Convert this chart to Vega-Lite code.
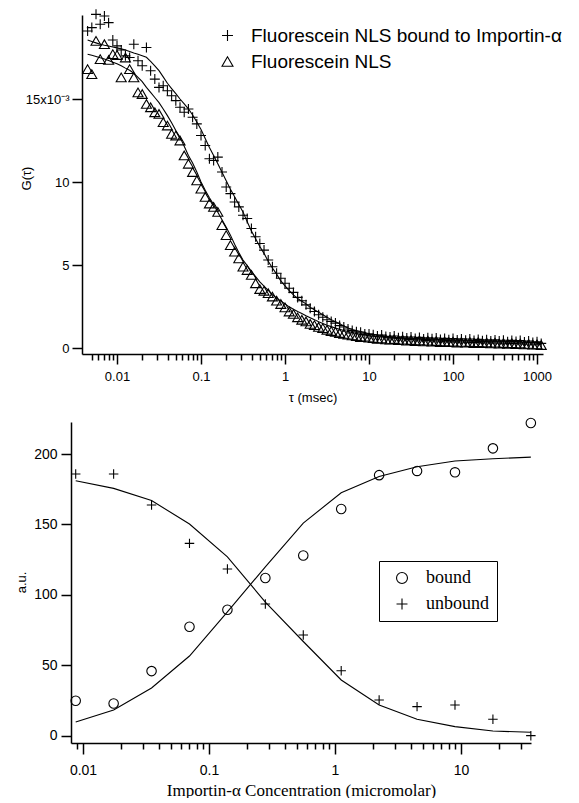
{
"$schema":"https://vega.github.io/schema/vega-lite/v6.json",
"padding":{"left":15,"top":7,"right":0,"bottom":0},
"background":"white",
"config":{"view":{"stroke":null},"font":"Liberation Sans","axis":{"labelColor":"black","titleColor":"black","domainColor":"black","tickColor":"black","grid":false,"titleFontWeight":"normal","domainWidth":1.5,"tickWidth":1.5,"labelFlush":false,"labelOverlap":false},"legend":{"labelColor":"black","labelLimit":500}},
"resolve":{"scale":{"shape":"independent"},"legend":{"shape":"independent"}},
"concat":[
{"concat":[
{"width":1,"height":1,"data":{"values":[]},"mark":"point","encoding":{}},
{"width":461,"height":339,
"data":{"values":[
{"t":0.004467,"s":"b","g":0.0191,"f":0.01855},{"t":0.005012,"s":"b","g":0.0193,"f":0.01846},{"t":0.005623,"s":"b","g":0.0201,"f":0.01838},{"t":0.00631,"s":"b","g":0.0195,"f":0.0183},{"t":0.007079,"s":"b","g":0.02,"f":0.01824},{"t":0.007943,"s":"b","g":0.0196,"f":0.01819},{"t":0.008913,"s":"b","g":0.01855,"f":0.01813},{"t":0.01,"s":"b","g":0.0182,"f":0.01808},{"t":0.01122,"s":"b","g":0.01795,"f":0.01802},{"t":0.01259,"s":"b","g":0.0176,"f":0.01795},{"t":0.01413,"s":"b","g":0.0175,"f":0.01786},{"t":0.01585,"s":"b","g":0.0183,"f":0.01777},{"t":0.01778,"s":"b","g":0.0173,"f":0.01769},{"t":0.01995,"s":"b","g":0.017,"f":0.0176},{"t":0.02239,"s":"b","g":0.0181,"f":0.01751},{"t":0.02512,"s":"b","g":0.0167,"f":0.01727},{"t":0.02818,"s":"b","g":0.0162,"f":0.017},{"t":0.03162,"s":"b","g":0.0157,"f":0.01671},{"t":0.03548,"s":"b","g":0.0158,"f":0.01633},{"t":0.03981,"s":"b","g":0.0155,"f":0.01595},{"t":0.04467,"s":"b","g":0.0152,"f":0.01563},{"t":0.05012,"s":"b","g":0.0149,"f":0.01532},{"t":0.05623,"s":"b","g":0.0145,"f":0.015},{"t":0.0631,"s":"b","g":0.0142,"f":0.01471},{"t":0.07079,"s":"b","g":0.0144,"f":0.01441},{"t":0.07943,"s":"b","g":0.0139,"f":0.01404},{"t":0.08913,"s":"b","g":0.0135,"f":0.01362},{"t":0.1,"s":"b","g":0.0128,"f":0.01317},{"t":0.1122,"s":"b","g":0.0122,"f":0.01262},{"t":0.1259,"s":"b","g":0.0114,"f":0.01208},{"t":0.1413,"s":"b","g":0.0113,"f":0.01159},{"t":0.1585,"s":"b","g":0.0115,"f":0.0111},{"t":0.1778,"s":"b","g":0.0106,"f":0.01059},{"t":0.1995,"s":"b","g":0.0097,"f":0.01007},{"t":0.2239,"s":"b","g":0.0093,"f":0.00956},{"t":0.2512,"s":"b","g":0.0088,"f":0.00911},{"t":0.2818,"s":"b","g":0.0085,"f":0.00865},{"t":0.3162,"s":"b","g":0.008,"f":0.0082},{"t":0.3548,"s":"b","g":0.0078,"f":0.0076},{"t":0.3981,"s":"b","g":0.0072,"f":0.00705},{"t":0.4467,"s":"b","g":0.0067,"f":0.00658},{"t":0.5012,"s":"b","g":0.0063,"f":0.00612},{"t":0.5623,"s":"b","g":0.0059,"f":0.0057},{"t":0.631,"s":"b","g":0.0053,"f":0.00523},{"t":0.7079,"s":"b","g":0.0049,"f":0.00482},{"t":0.7943,"s":"b","g":0.0045,"f":0.00445},{"t":0.8913,"s":"b","g":0.0042,"f":0.00404},{"t":1,"s":"b","g":0.0039,"f":0.00375},{"t":1.122,"s":"b","g":0.0036,"f":0.00346},{"t":1.259,"s":"b","g":0.00335,"f":0.0032},{"t":1.413,"s":"b","g":0.00305,"f":0.00298},{"t":1.585,"s":"b","g":0.00285,"f":0.00282},{"t":1.778,"s":"b","g":0.0026,"f":0.00266},{"t":1.995,"s":"b","g":0.0024,"f":0.00245},{"t":2.239,"s":"b","g":0.0022,"f":0.0023},{"t":2.512,"s":"b","g":0.002,"f":0.00215},{"t":2.818,"s":"b","g":0.00185,"f":0.002},{"t":3.162,"s":"b","g":0.0017,"f":0.00185},{"t":3.548,"s":"b","g":0.0016,"f":0.00171},{"t":3.981,"s":"b","g":0.0015,"f":0.00158},{"t":4.467,"s":"b","g":0.00135,"f":0.00146},{"t":5.012,"s":"b","g":0.00127,"f":0.00133},{"t":5.623,"s":"b","g":0.00115,"f":0.00121},{"t":6.31,"s":"b","g":0.00105,"f":0.00112},{"t":7.079,"s":"b","g":0.00098,"f":0.00105},{"t":7.943,"s":"b","g":0.00095,"f":0.00099},{"t":8.913,"s":"b","g":0.00085,"f":0.00093},{"t":10,"s":"b","g":0.00084,"f":0.00086},{"t":11.22,"s":"b","g":0.0008,"f":0.00082},{"t":12.59,"s":"b","g":0.00072,"f":0.00078},{"t":14.13,"s":"b","g":0.00078,"f":0.00075},{"t":15.85,"s":"b","g":0.0007,"f":0.00071},{"t":17.78,"s":"b","g":0.00066,"f":0.00068},{"t":19.95,"s":"b","g":0.00072,"f":0.00065},{"t":22.39,"s":"b","g":0.00062,"f":0.00061},{"t":25.12,"s":"b","g":0.00068,"f":0.00059},{"t":28.18,"s":"b","g":0.0006,"f":0.00058},{"t":31.62,"s":"b","g":0.00066,"f":0.00056},{"t":35.48,"s":"b","g":0.00058,"f":0.00055},{"t":39.81,"s":"b","g":0.00064,"f":0.00054},{"t":44.67,"s":"b","g":0.00055,"f":0.00052},{"t":50.12,"s":"b","g":0.00062,"f":0.00051},{"t":56.23,"s":"b","g":0.00056,"f":0.0005},{"t":63.1,"s":"b","g":0.0006,"f":0.00049},{"t":70.79,"s":"b","g":0.00052,"f":0.00047},{"t":79.43,"s":"b","g":0.00058,"f":0.00046},{"t":89.13,"s":"b","g":0.0005,"f":0.00045},{"t":100,"s":"b","g":0.00057,"f":0.00044},{"t":112.2,"s":"b","g":0.00049,"f":0.00044},{"t":125.9,"s":"b","g":0.00055,"f":0.00043},{"t":141.3,"s":"b","g":0.00047,"f":0.00042},{"t":158.5,"s":"b","g":0.00054,"f":0.00041},{"t":177.8,"s":"b","g":0.00046,"f":0.00041},{"t":199.5,"s":"b","g":0.00052,"f":0.0004},{"t":223.9,"s":"b","g":0.00044,"f":0.00039},{"t":251.2,"s":"b","g":0.0005,"f":0.00039},{"t":281.8,"s":"b","g":0.00043,"f":0.00038},{"t":316.2,"s":"b","g":0.00049,"f":0.00038},{"t":354.8,"s":"b","g":0.00042,"f":0.00038},{"t":398.1,"s":"b","g":0.00047,"f":0.00037},{"t":446.7,"s":"b","g":0.00038,"f":0.00037},{"t":501.2,"s":"b","g":0.00046,"f":0.00036},{"t":562.3,"s":"b","g":0.0004,"f":0.00036},{"t":631,"s":"b","g":0.00045,"f":0.00035},{"t":707.9,"s":"b","g":0.00036,"f":0.00035},{"t":794.3,"s":"b","g":0.00042,"f":0.00034},{"t":891.3,"s":"b","g":0.00033,"f":0.00034},{"t":1000,"s":"b","g":0.00038,"f":0.00033},{"t":1122,"s":"b","g":0.00028,"f":0.00033},
{"t":0.004467,"s":"f","g":0.0168,"f":0.0177},{"t":0.005012,"s":"f","g":0.0165,"f":0.01763},{"t":0.005623,"s":"f","g":0.0185,"f":0.01756},{"t":0.00631,"s":"f","g":0.0174,"f":0.01748},{"t":0.007079,"s":"f","g":0.0183,"f":0.01741},{"t":0.007943,"s":"f","g":0.01735,"f":0.01732},{"t":0.008913,"s":"f","g":0.0177,"f":0.01722},{"t":0.01,"s":"f","g":0.01765,"f":0.01712},{"t":0.01122,"s":"f","g":0.0163,"f":0.017},{"t":0.01259,"s":"f","g":0.0175,"f":0.01686},{"t":0.01413,"s":"f","g":0.0168,"f":0.01673},{"t":0.01585,"s":"f","g":0.0163,"f":0.01655},{"t":0.01778,"s":"f","g":0.0154,"f":0.0163},{"t":0.01995,"s":"f","g":0.0153,"f":0.01605},{"t":0.02239,"s":"f","g":0.0147,"f":0.0157},{"t":0.02512,"s":"f","g":0.0145,"f":0.0154},{"t":0.02818,"s":"f","g":0.0142,"f":0.01509},{"t":0.03162,"s":"f","g":0.0141,"f":0.01478},{"t":0.03548,"s":"f","g":0.0136,"f":0.0144},{"t":0.03981,"s":"f","g":0.0134,"f":0.014},{"t":0.04467,"s":"f","g":0.0129,"f":0.01357},{"t":0.05012,"s":"f","g":0.0128,"f":0.0131},{"t":0.05623,"s":"f","g":0.0125,"f":0.0127},{"t":0.0631,"s":"f","g":0.0116,"f":0.01215},{"t":0.07079,"s":"f","g":0.0111,"f":0.0116},{"t":0.07943,"s":"f","g":0.0106,"f":0.01114},{"t":0.08913,"s":"f","g":0.0101,"f":0.0106},{"t":0.1,"s":"f","g":0.0096,"f":0.01},{"t":0.1122,"s":"f","g":0.0091,"f":0.0095},{"t":0.1259,"s":"f","g":0.0087,"f":0.00905},{"t":0.1413,"s":"f","g":0.0085,"f":0.00864},{"t":0.1585,"s":"f","g":0.0082,"f":0.00818},{"t":0.1778,"s":"f","g":0.0074,"f":0.00773},{"t":0.1995,"s":"f","g":0.0068,"f":0.00728},{"t":0.2239,"s":"f","g":0.0062,"f":0.0068},{"t":0.2512,"s":"f","g":0.0058,"f":0.00625},{"t":0.2818,"s":"f","g":0.0054,"f":0.00575},{"t":0.3162,"s":"f","g":0.0049,"f":0.0053},{"t":0.3548,"s":"f","g":0.0047,"f":0.00496},{"t":0.3981,"s":"f","g":0.0044,"f":0.00462},{"t":0.4467,"s":"f","g":0.0039,"f":0.0043},{"t":0.5012,"s":"f","g":0.00355,"f":0.00398},{"t":0.5623,"s":"f","g":0.00345,"f":0.00373},{"t":0.631,"s":"f","g":0.0033,"f":0.00347},{"t":0.7079,"s":"f","g":0.0031,"f":0.00322},{"t":0.7943,"s":"f","g":0.00285,"f":0.003},{"t":0.8913,"s":"f","g":0.00265,"f":0.00283},{"t":1,"s":"f","g":0.00245,"f":0.00266},{"t":1.122,"s":"f","g":0.0022,"f":0.00248},{"t":1.259,"s":"f","g":0.00205,"f":0.00234},{"t":1.413,"s":"f","g":0.00185,"f":0.0022},{"t":1.585,"s":"f","g":0.0017,"f":0.00208},{"t":1.778,"s":"f","g":0.0016,"f":0.00195},{"t":1.995,"s":"f","g":0.00145,"f":0.00183},{"t":2.239,"s":"f","g":0.00138,"f":0.00171},{"t":2.512,"s":"f","g":0.00127,"f":0.00158},{"t":2.818,"s":"f","g":0.0012,"f":0.00148},{"t":3.162,"s":"f","g":0.0011,"f":0.00137},{"t":3.548,"s":"f","g":0.00102,"f":0.00129},{"t":3.981,"s":"f","g":0.00097,"f":0.0012},{"t":4.467,"s":"f","g":0.0009,"f":0.00113},{"t":5.012,"s":"f","g":0.00085,"f":0.00106},{"t":5.623,"s":"f","g":0.0008,"f":0.00099},{"t":6.31,"s":"f","g":0.00076,"f":0.00093},{"t":7.079,"s":"f","g":0.00072,"f":0.00087},{"t":7.943,"s":"f","g":0.00066,"f":0.00082},{"t":8.913,"s":"f","g":0.00068,"f":0.00078},{"t":10,"s":"f","g":0.00062,"f":0.00074},{"t":11.22,"s":"f","g":0.0006,"f":0.00071},{"t":12.59,"s":"f","g":0.00055,"f":0.00068},{"t":14.13,"s":"f","g":0.00058,"f":0.00066},{"t":15.85,"s":"f","g":0.00052,"f":0.00063},{"t":17.78,"s":"f","g":0.0005,"f":0.00061},{"t":19.95,"s":"f","g":0.00054,"f":0.00059},{"t":22.39,"s":"f","g":0.00047,"f":0.00056},{"t":25.12,"s":"f","g":0.0005,"f":0.00054},{"t":28.18,"s":"f","g":0.00044,"f":0.00052},{"t":31.62,"s":"f","g":0.00048,"f":0.00051},{"t":35.48,"s":"f","g":0.00042,"f":0.00049},{"t":39.81,"s":"f","g":0.00046,"f":0.00048},{"t":44.67,"s":"f","g":0.0004,"f":0.00046},{"t":50.12,"s":"f","g":0.00044,"f":0.00045},{"t":56.23,"s":"f","g":0.00038,"f":0.00044},{"t":63.1,"s":"f","g":0.00042,"f":0.00042},{"t":70.79,"s":"f","g":0.00036,"f":0.00041},{"t":79.43,"s":"f","g":0.0004,"f":0.00039},{"t":89.13,"s":"f","g":0.00035,"f":0.00038},{"t":100,"s":"f","g":0.00038,"f":0.00037},{"t":112.2,"s":"f","g":0.00033,"f":0.00037},{"t":125.9,"s":"f","g":0.00037,"f":0.00036},{"t":141.3,"s":"f","g":0.00032,"f":0.00035},{"t":158.5,"s":"f","g":0.00036,"f":0.00034},{"t":177.8,"s":"f","g":0.0003,"f":0.00034},{"t":199.5,"s":"f","g":0.00035,"f":0.00033},{"t":223.9,"s":"f","g":0.00029,"f":0.00032},{"t":251.2,"s":"f","g":0.00033,"f":0.00032},{"t":281.8,"s":"f","g":0.00028,"f":0.00031},{"t":316.2,"s":"f","g":0.00032,"f":0.0003},{"t":354.8,"s":"f","g":0.00026,"f":0.0003},{"t":398.1,"s":"f","g":0.0003,"f":0.00029},{"t":446.7,"s":"f","g":0.00025,"f":0.00028},{"t":501.2,"s":"f","g":0.00029,"f":0.00028},{"t":562.3,"s":"f","g":0.00023,"f":0.00027},{"t":631,"s":"f","g":0.00027,"f":0.00026},{"t":707.9,"s":"f","g":0.00022,"f":0.00025},{"t":794.3,"s":"f","g":0.00025,"f":0.00024},{"t":891.3,"s":"f","g":0.0002,"f":0.00024},{"t":1000,"s":"f","g":0.00022,"f":0.00023},{"t":1122,"s":"f","g":0.00018,"f":0.00022}
]},
"layer":[
{"mark":{"type":"point","filled":false,"color":"black","strokeWidth":1.1,"size":100,"opacity":1},
"encoding":{
"x":{"field":"t","type":"quantitative","scale":{"type":"log","domain":[0.00383,1178],"nice":false},
"axis":{"values":[0.01,0.1,1,10,100,1000],"format":"~g","tickSize":10,"labelPadding":6,"labelFontSize":13,"title":"τ (msec)","titleFontSize":13,"titleY":43,"titleBaseline":"middle"}},
"y":{"field":"g","type":"quantitative","scale":{"domain":[-0.00036,0.02006],"nice":false,"zero":false},
"axis":{"values":[0,0.005,0.01,0.015],"labelExpr":"datum.value > 0.012 ? '15x10⁻³' : format(datum.value*1000,'.0f')","tickSize":10,"labelPadding":3,"labelFontSize":13,"title":"G(τ)","titleFontSize":13,"titleX":-56,"titleY":163,"titleBaseline":"middle","titleAngle":-90}},
"shape":{"field":"s","type":"nominal","scale":{"domain":["b","f"],"range":["M-1,0H1M0,-1V1","triangle-up"]},
"legend":{"orient":"none","legendX":139,"legendY":11,"title":null,"padding":0,"labelExpr":"datum.label == 'b' ? 'Fluorescein NLS bound to Importin-α' : 'Fluorescein NLS'","labelFontSize":19,"labelFont":"Liberation Sans","labelOffset":14,"symbolOffset":8,"labelLimit":500,"symbolSize":120,"symbolStrokeColor":"black","symbolFillColor":"transparent","symbolStrokeWidth":1.1,"rowPadding":6}}
}},
{"mark":{"type":"line","color":"black","strokeWidth":1.1},
"encoding":{
"x":{"field":"t","type":"quantitative","scale":{"type":"log","domain":[0.00383,1178],"nice":false},
"axis":{"orient":"bottom","values":[0.005,0.006,0.007,0.008,0.009,0.02,0.03,0.04,0.05,0.06,0.07,0.08,0.09,0.2,0.3,0.4,0.5,0.6,0.7,0.8,0.9,2,3,4,5,6,7,8,9,20,30,40,50,60,70,80,90,200,300,400,500,600,700,800,900],"labels":false,"domain":false,"tickSize":6,"title":null}},
"y":{"field":"f","type":"quantitative","axis":null},
"detail":{"field":"s"}
}}
],
"resolve":{"axis":{"x":"independent","y":"independent"}}
}
],"columns":2,"spacing":-52},
{"width":460,"height":321,
"data":{"values":[
{"c":0.00875,"s":"bound","v":25,"fit":9.9},{"c":0.0175,"s":"bound","v":23,"fit":18.4},{"c":0.035,"s":"bound","v":46,"fit":34},{"c":0.07,"s":"bound","v":77.5,"fit":56.7},{"c":0.14,"s":"bound","v":89.5,"fit":88},{"c":0.28,"s":"bound","v":112,"fit":120},{"c":0.56,"s":"bound","v":128,"fit":151},{"c":1.12,"s":"bound","v":161,"fit":172.5},{"c":2.24,"s":"bound","v":185,"fit":184},{"c":4.48,"s":"bound","v":188,"fit":191},{"c":8.96,"s":"bound","v":187,"fit":195},{"c":17.92,"s":"bound","v":204,"fit":196.6},{"c":35.84,"s":"bound","v":222,"fit":197.8},
{"c":0.00875,"s":"unbound","v":185.8,"fit":181},{"c":0.0175,"s":"unbound","v":185.8,"fit":175.6},{"c":0.035,"s":"unbound","v":163.8,"fit":167},{"c":0.07,"s":"unbound","v":136.6,"fit":150.3},{"c":0.14,"s":"unbound","v":118.4,"fit":127},{"c":0.28,"s":"unbound","v":93.6,"fit":95},{"c":0.56,"s":"unbound","v":71.6,"fit":67},{"c":1.12,"s":"unbound","v":46.3,"fit":39.7},{"c":2.24,"s":"unbound","v":25.5,"fit":22},{"c":4.48,"s":"unbound","v":20.8,"fit":11.8},{"c":8.96,"s":"unbound","v":22,"fit":6.6},{"c":17.92,"s":"unbound","v":11.8,"fit":3.5},{"c":35.84,"s":"unbound","v":0.2,"fit":2.6}
]},
"layer":[
{"mark":{"type":"point","filled":false,"color":"black","strokeWidth":1.1,"size":90,"opacity":1},
"encoding":{
"x":{"field":"c","type":"quantitative","scale":{"type":"log","domain":[0.00803,35.94],"nice":false},
"axis":{"values":[0.01,0.1,1,10],"format":"~g","tickSize":11,"labelPadding":9,"labelFontSize":14,"labelFont":"Liberation Sans Narrow, Liberation Sans","title":"Importin-α Concentration (micromolar)","titleFont":"Liberation Serif","titleFontSize":17,"titleY":47,"titleBaseline":"middle"}},
"y":{"field":"v","type":"quantitative","scale":{"domain":[-5,222.7],"nice":false,"zero":false},
"axis":{"values":[0,50,100,150,200],"tickSize":10,"labelPadding":4,"labelFontSize":14,"labelFont":"Liberation Sans Narrow, Liberation Sans","title":"a.u.","titleFont":"Liberation Sans Narrow, Liberation Sans","titleFontSize":13,"titleX":-50,"titleY":160,"titleBaseline":"middle","titleAngle":-90}},
"shape":{"field":"s","type":"nominal","scale":{"domain":["bound","unbound"],"range":["circle","M-1,0H1M0,-1V1"]},
"legend":{"orient":"none","legendX":308,"legendY":139,"title":null,"padding":8,"strokeColor":"black","fillColor":"white","labelFontSize":18,"labelFont":"Liberation Serif","labelOffset":15,"symbolOffset":6,"symbolSize":120,"symbolStrokeColor":"black","symbolFillColor":"transparent","symbolStrokeWidth":1.1,"rowPadding":8}}
}},
{"mark":{"type":"line","color":"black","strokeWidth":1.1},
"encoding":{
"x":{"field":"c","type":"quantitative","scale":{"type":"log","domain":[0.00803,35.94],"nice":false},
"axis":{"orient":"bottom","values":[0.009,0.02,0.03,0.04,0.05,0.06,0.07,0.08,0.09,0.2,0.3,0.4,0.5,0.6,0.7,0.8,0.9,2,3,4,5,6,7,8,9,20,30],"labels":false,"domain":false,"tickSize":6,"title":null}},
"y":{"field":"fit","type":"quantitative","axis":null},
"detail":{"field":"s"}
}}
],
"resolve":{"axis":{"x":"independent","y":"independent"}}
}
],
"columns":1,
"spacing":12
}
